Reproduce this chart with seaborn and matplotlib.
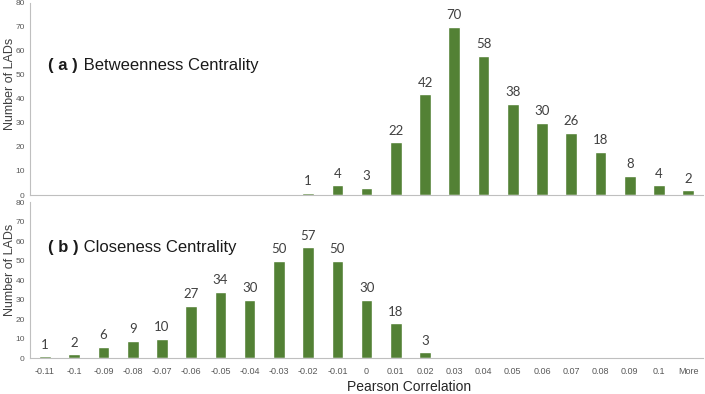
import pandas as pd
import matplotlib.pyplot as plt
import seaborn as sns

# Categorías del eje x (bins de correlación de Pearson)
categories = ["-0.11", "-0.1", "-0.09", "-0.08", "-0.07", "-0.06", "-0.05", "-0.04",
              "-0.03", "-0.02", "-0.01", "0", "0.01", "0.02", "0.03", "0.04",
              "0.05", "0.06", "0.07", "0.08", "0.09", "0.1", "More"]

# Número de LADs por bin
betweenness = [0, 0, 0, 0, 0, 0, 0, 0, 0, 1, 4, 3, 22, 42, 70, 58,
               38, 30, 26, 18, 8, 4, 2]
closeness = [1, 2, 6, 9, 10, 27, 34, 30, 50, 57, 50, 30, 18, 3, 0, 0,
             0, 0, 0, 0, 0, 0, 0]

panel_titles = [("( a )", " Betweenness Centrality"), ("( b )", " Closeness Centrality")]

df = pd.DataFrame({"Correlation": categories,
                   "Betweenness": betweenness,
                   "Closeness": closeness})

sns.set_style("white")
plt.rcParams["font.family"] = ["Liberation Sans", "DejaVu Sans"]

green = "#538135"
axis_gray = "#bfbfbf"

fig = plt.figure(figsize=(7.05, 3.94), dpi=100)
ax_top = fig.add_axes([0.043, 0.505, 0.954, 0.488])
ax_bot = fig.add_axes([0.043, 0.0906, 0.954, 0.396])

for ax, col, (tag, name), ty, ly in [(ax_top, "Betweenness", panel_titles[0], 0.676, 0.577),
                                      (ax_bot, "Closeness", panel_titles[1], 0.713, 0.566)]:
    sns.barplot(data=df, x="Correlation", y=col, order=categories,
                color=green, width=0.4, saturation=1, ax=ax)
    # Etiquetas de valores (omitir ceros)
    labels = [str(v) if v > 0 else "" for v in df[col]]
    ax.bar_label(ax.containers[0], labels=labels, padding=4,
                 fontsize=9.5, color="#404040", family=["Lato", "DejaVu Sans"])
    ax.set_ylim(0, 80)
    ax.set_yticks(range(0, 81, 10))
    ax.set_xlim(-0.5, len(categories) - 0.5)
    ax.tick_params(axis="y", labelsize=6, colors="#595959", length=0, pad=4)
    ax.set_ylabel("Number of LADs", fontsize=9, color="#404040")
    ax.yaxis.set_label_coords(-0.022, ly)
    ax.set_xlabel("")
    for s in ["top", "right"]:
        ax.spines[s].set_visible(False)
    for s in ["left", "bottom"]:
        ax.spines[s].set_color(axis_gray)
        ax.spines[s].set_linewidth(0.8)
    ax.text(0.026, ty, tag, transform=ax.transAxes, fontsize=12,
            fontweight="bold", va="center", ha="left", color="#1a1a1a")
    ax.text(0.026 + 0.047, ty, name, transform=ax.transAxes, fontsize=12,
            va="center", ha="left", color="#1a1a1a")

ax_top.set_xticks([])

# Marcas del eje x entre categorías (estilo Excel)
ax_bot.set_xticks(range(len(categories)))
ax_bot.set_xticklabels(categories)
ax_bot.tick_params(axis="x", labelsize=6.5, colors="#595959", length=0, pad=6)
ax_bot.set_xticks([i - 0.5 for i in range(len(categories) + 1)], minor=True)
ax_bot.tick_params(axis="x", which="minor", length=3, color=axis_gray, width=0.6)

fig.text(409 / 705, 1 - 387 / 394, "Pearson Correlation", fontsize=10,
         ha="center", va="center", color="#262626")

fig.savefig("out.png", dpi=100)
